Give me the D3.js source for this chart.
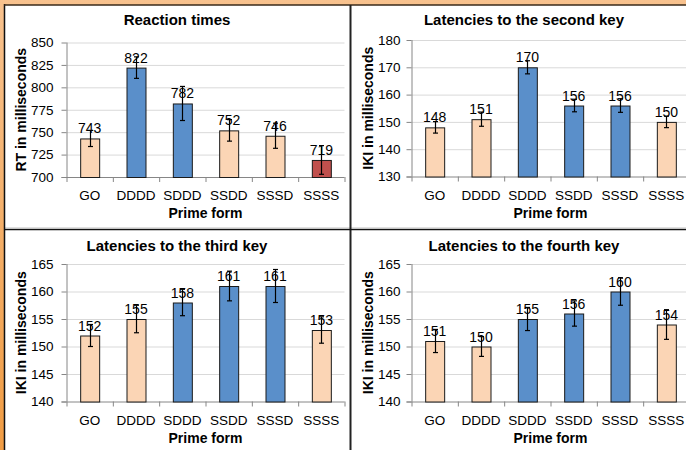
<!DOCTYPE html>
<html>
<head>
<meta charset="utf-8">
<script src="https://cdn.jsdelivr.net/npm/d3@7"></script>
<style>
  body { margin: 0; background: #fff; }
  svg { display: block; font-family: "Liberation Sans", Arial, sans-serif; }
</style>
</head>
<body>
<svg id="chart" width="686" height="450"></svg>
<script>
// prime forms shared by all four panels
const primeForms = ["GO", "DDDD", "SDDD", "SSDD", "SSSD", "SSSS"];

// reaction times
const rtValues = [743, 822, 782, 752, 746, 719];
const rtErrors = [9, 12, 19, 12, 14, 16];
const rtColors = ["peach", "blue", "blue", "peach", "peach", "red"];

// latencies to the second key
const key2Values = [148, 151, 170, 156, 156, 150];
const key2Errors = [2.1, 2.6, 2.4, 2.3, 2.5, 2.1];

// latencies to the third key
const key3Values = [152, 155, 158, 161, 161, 153];
const key3Errors = [2.0, 2.5, 2.4, 2.7, 3.0, 2.4];

// latencies to the fourth key
const key4Values = [151, 150, 155, 156, 160, 154];
const key4Errors = [2.1, 1.8, 2.1, 2.3, 2.5, 2.7];

const keyColors = ["peach", "peach", "blue", "blue", "blue", "peach"];

const fills = { peach: "#fbd5b5", blue: "#5a8fca", red: "#c0504d" };

const svg = d3.select("#chart");

// orange backdrop with a vertical gradient
const grad = svg.append("defs").append("linearGradient")
    .attr("id", "bg").attr("x1", 0).attr("y1", 0).attr("x2", 0).attr("y2", 1);
grad.append("stop").attr("offset", "0%").attr("stop-color", "#f8c28e");
grad.append("stop").attr("offset", "100%").attr("stop-color", "#f09c44");
svg.append("rect").attr("width", 686).attr("height", 450).attr("fill", "url(#bg)");
svg.append("rect").attr("x", 4).attr("y", 5).attr("width", 682).attr("height", 445).attr("fill", "#fff");

// draw a single bar panel
function drawPanel(p) {
    const g = svg.append("g");
    const x = d3.scaleBand().domain(primeForms)
        .range([p.left, p.left + 278])
        .paddingInner(0.59).paddingOuter(0.295);
    const y = d3.scaleLinear().domain(p.domain).range([p.bottom, p.top]);
    const ticks = d3.range(p.domain[0], p.domain[1] + p.step / 2, p.step);

    // gridlines
    g.selectAll(".grid").data(ticks.slice(1)).join("line")
        .attr("x1", p.left).attr("x2", p.left + 278)
        .attr("y1", d => y(d) + 0.5).attr("y2", d => y(d) + 0.5)
        .attr("stroke", "#d9d9d9");

    // y axis
    const yAxis = g.append("g")
        .attr("transform", `translate(${p.left},0)`)
        .call(d3.axisLeft(y).tickValues(ticks).tickSize(5).tickPadding(p.pad));
    yAxis.select(".domain").remove();
    yAxis.selectAll(".tick line").attr("stroke", "#868686");
    yAxis.selectAll("text").attr("font-size", 13.5).attr("fill", "#000")
        .attr("font-family", "Liberation Sans, Arial, sans-serif");
    g.append("line")
        .attr("x1", p.left + 0.5).attr("x2", p.left + 0.5)
        .attr("y1", p.top).attr("y2", p.bottom)
        .attr("stroke", "#868686");

    // x axis line with ticks at category boundaries
    g.append("line")
        .attr("x1", p.left - 5).attr("x2", p.left + 278)
        .attr("y1", p.bottom + 0.5).attr("y2", p.bottom + 0.5)
        .attr("stroke", "#868686");
    g.selectAll(".xtick").data(d3.range(primeForms.length + 1)).join("line")
        .attr("x1", i => p.left + i * x.step() + 0.5)
        .attr("x2", i => p.left + i * x.step() + 0.5)
        .attr("y1", p.bottom).attr("y2", p.bottom + 5)
        .attr("stroke", "#868686");
    g.selectAll(".xlab").data(primeForms).join("text")
        .attr("x", d => x(d) + x.bandwidth() / 2)
        .attr("y", p.bottom + 23)
        .attr("text-anchor", "middle")
        .attr("font-size", 13.5)
        .text(d => d);

    // bars
    g.selectAll(".bar").data(p.values).join("rect")
        .attr("x", (d, i) => x(primeForms[i]) + 0.5)
        .attr("y", d => y(d) + 0.5)
        .attr("width", x.bandwidth())
        .attr("height", d => p.bottom - y(d))
        .attr("fill", (d, i) => fills[p.colors[i]])
        .attr("stroke", "#1a1a1a")
        .attr("stroke-width", 1);

    // value labels
    g.selectAll(".val").data(p.values).join("text")
        .attr("x", (d, i) => x(primeForms[i]) + x.bandwidth() / 2)
        .attr("y", d => y(d) - 5)
        .attr("text-anchor", "middle")
        .attr("font-size", 14)
        .text(d => d);

    // error bars
    p.values.forEach((v, i) => {
        const cx = Math.round(x(primeForms[i]) + x.bandwidth() / 2) + 0.5;
        const e = p.errors[i];
        const y1 = y(v + e), y2 = y(v - e);
        g.append("line").attr("x1", cx).attr("x2", cx).attr("y1", y1).attr("y2", y2)
            .attr("stroke", "#000").attr("stroke-width", 1.2);
        [y1, y2].forEach(yy => g.append("line")
            .attr("x1", cx - 2.5).attr("x2", cx + 2.5).attr("y1", yy).attr("y2", yy)
            .attr("stroke", "#000").attr("stroke-width", 1.2));
    });

    // titles
    g.append("text")
        .attr("x", p.panelLeft + 173).attr("y", p.titleY)
        .attr("text-anchor", "middle")
        .attr("font-size", 15).attr("font-weight", "bold")
        .text(p.title);
    g.append("text")
        .attr("x", p.left + 139).attr("y", p.bottom + 41)
        .attr("text-anchor", "middle")
        .attr("font-size", 14).attr("font-weight", "bold")
        .text("Prime form");
    g.append("text")
        .attr("transform", `translate(${p.panelLeft + 22},${(p.top + p.bottom) / 2}) rotate(-90)`)
        .attr("text-anchor", "middle")
        .attr("font-size", 14).attr("font-weight", "bold")
        .text(p.yTitle);
}

drawPanel({ title: "Reaction times", yTitle: "RT in milliseconds",
    values: rtValues, errors: rtErrors, colors: rtColors,
    domain: [700, 850], step: 25, pad: 8,
    panelLeft: 4, left: 66.5, top: 42.5, bottom: 177, titleY: 24.5 });
drawPanel({ title: "Latencies to the second key", yTitle: "IKI in milliseconds",
    values: key2Values, errors: key2Errors, colors: keyColors,
    domain: [130, 180], step: 10, pad: 6,
    panelLeft: 351, left: 411.5, top: 40, bottom: 176.5, titleY: 24.5 });
drawPanel({ title: "Latencies to the third key", yTitle: "IKI in milliseconds",
    values: key3Values, errors: key3Errors, colors: keyColors,
    domain: [140, 165], step: 5, pad: 8,
    panelLeft: 4, left: 66.5, top: 264, bottom: 401.5, titleY: 251 });
drawPanel({ title: "Latencies to the fourth key", yTitle: "IKI in milliseconds",
    values: key4Values, errors: key4Errors, colors: keyColors,
    domain: [140, 165], step: 5, pad: 6,
    panelLeft: 351, left: 411.5, top: 264, bottom: 401.5, titleY: 251 });

// panel borders
svg.append("line").attr("x1", 4).attr("x2", 686).attr("y1", 227.5).attr("y2", 227.5).attr("stroke", "#e0e0e0");
svg.append("line").attr("x1", 4.5).attr("x2", 4.5).attr("y1", 4).attr("y2", 450).attr("stroke", "#111").attr("stroke-width", 1.5);
svg.append("line").attr("x1", 4).attr("x2", 686).attr("y1", 5).attr("y2", 5).attr("stroke", "#3a2a1a").attr("stroke-width", 1.5);
svg.append("line").attr("x1", 350.5).attr("x2", 350.5).attr("y1", 5).attr("y2", 450).attr("stroke", "#222").attr("stroke-width", 2);
svg.append("line").attr("x1", 4).attr("x2", 686).attr("y1", 229.5).attr("y2", 229.5).attr("stroke", "#111").attr("stroke-width", 1.5);
</script>
</body>
</html>
